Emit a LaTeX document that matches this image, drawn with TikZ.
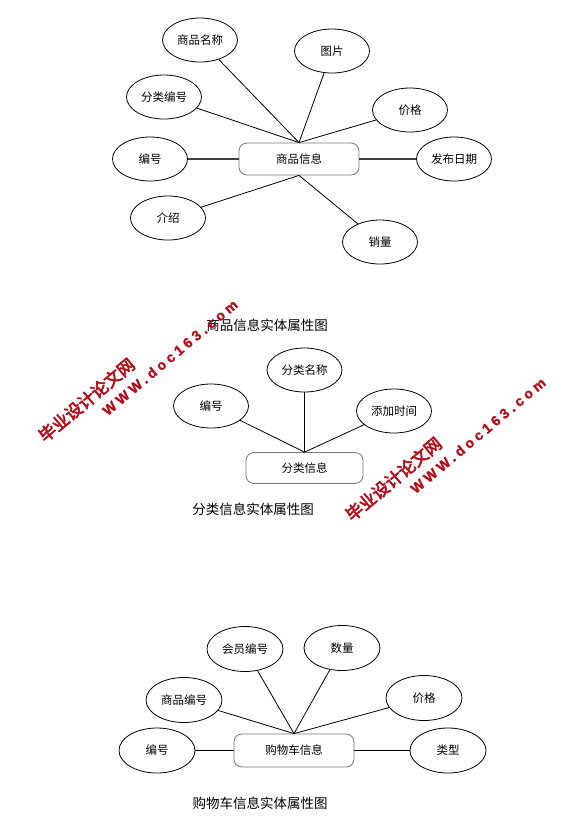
\documentclass[tikz,border=0pt]{standalone}
\usepackage{fontspec}
\usetikzlibrary{shapes.geometric}
\setmainfont{Noto Sans CJK SC}
\newfontfamily\wmcjk[FakeBold=3.5]{Noto Sans CJK SC}
\newfontfamily\wmlat[LetterSpace=26,BoldFeatures={FakeBold=1.5}]{Liberation Sans}
\definecolor{wmred}{RGB}{178,16,26}
\definecolor{boxgray}{RGB}{120,120,120}
\tikzset{
  attr/.style={draw=black, line width=0.8pt, ellipse, minimum width=75pt, minimum height=44pt, inner sep=0pt, font=\fontsize{11.5}{14}\selectfont},
  entity/.style={draw=boxgray, line width=0.8pt, rounded corners=8pt, minimum width=120pt, minimum height=32pt, inner sep=0pt, font=\fontsize{11.5}{14}\selectfont},
  link/.style={draw=black, line width=0.8pt},
  hlink/.style={draw=black!75, line width=1.4pt},
  caption/.style={font=\fontsize{13.5}{16}\selectfont, inner sep=0pt},
  wmone/.style={text=wmred, rotate=40, inner sep=0pt, font=\wmcjk\fontsize{17}{18}\selectfont},
  wmtwo/.style={text=wmred, rotate=40, inner sep=0pt, font=\wmlat\bfseries\fontsize{14}{15}\selectfont}
}
\begin{document}
\begin{tikzpicture}[x=1pt,y=-1pt]
\useasboundingbox (0,0) rectangle (587,823);
\fill[white] (0,0) rectangle (587,823);

% ---------- diagram 1 ----------
\node[entity] (r1) at (299,159) {商品信息};
\node[attr] (a1) at (200,40) {商品名称};
\node[attr] (a2) at (332,51) {图片};
\node[attr] (a3) at (164,97) {分类编号};
\node[attr] (a4) at (410,110) {价格};
\node[attr] (a5) at (150,159) {编号};
\node[attr] (a6) at (454,159) {发布日期};
\node[attr] (a7) at (168,218) {介绍};
\node[attr] (a8) at (380,242) {销量};
\draw[link] (a1) -- (r1.north);
\draw[link] (a2) -- (r1.north);
\draw[link] (a3) -- (r1.north);
\draw[link] (a4) -- (r1.north);
\draw[hlink] (a5) -- (r1);
\draw[hlink] (a6) -- (r1);
\draw[link] (a7) -- (r1.south);
\draw[link] (a8) -- (r1.south);
\node[caption] (cap1) at (267,325) {商品信息实体属性图};

% ---------- diagram 2 ----------
\node[entity, minimum width=117pt, minimum height=31pt] (r2) at (304.5,468) {分类信息};
\node[attr] (b1) at (304.5,370) {分类名称};
\node[attr] (b2) at (211,406) {编号};
\node[attr] (b3) at (394,411) {添加时间};
\draw[link] (b1) -- (r2.north);
\draw[link] (b2) -- (r2.north);
\draw[link] (b3) -- (r2.north);
\node[caption] (cap2) at (253,509) {分类信息实体属性图};

% ---------- diagram 3 ----------
\node[entity, minimum height=33pt] (r3) at (294,750.5) {购物车信息};
\node[attr, minimum width=76pt, minimum height=45pt] (c1) at (245,649) {会员编号};
\node[attr, minimum width=76pt, minimum height=45pt] (c2) at (342,648) {数量};
\node[attr, minimum width=76pt, minimum height=45pt] (c3) at (184,700) {商品编号};
\node[attr, minimum width=76pt, minimum height=45pt] (c4) at (424,698) {价格};
\node[attr, minimum width=76pt, minimum height=45pt] (c5) at (157,750.5) {编号};
\node[attr, minimum width=76pt, minimum height=45pt] (c6) at (448,750.5) {类型};
\draw[link] (c1) -- (r3.north);
\draw[link] (c2) -- (r3.north);
\draw[link] (c3) -- (r3.north);
\draw[link] (c4) -- (r3.north);
\draw[link] (c5) -- (r3);
\draw[link] (c6) -- (r3);
\node[caption] (cap3) at (260,803) {购物车信息实体属性图};

% ---------- watermarks ----------
\node[wmone] (w1a) at (86.5,400) {毕业设计论文网};
\node[wmtwo] (w1b) at (170,357.5) {WWW.doc163.com};
\node[wmone] (w2a) at (393.5,479) {毕业设计论文网};
\node[wmtwo] (w2b) at (478,435.5) {WWW.doc163.com};
\end{tikzpicture}
\end{document}
